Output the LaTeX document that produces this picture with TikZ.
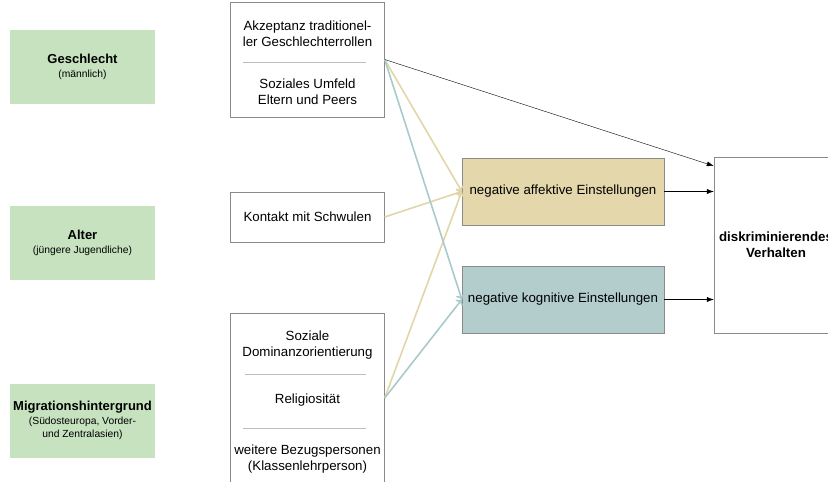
\documentclass[tikz,border=0pt]{standalone}
\usepackage{fontspec}
\setmainfont{Liberation Sans}
\usetikzlibrary{arrows.meta,positioning}
\definecolor{factorgreen}{HTML}{C6E2BF}
\definecolor{affecttan}{HTML}{E4D7AC}
\definecolor{cognblue}{HTML}{B3CDCC}
\definecolor{tanline}{HTML}{E2D5A6}
\definecolor{blueline}{HTML}{A9CACB}
\definecolor{frame}{HTML}{8A8A8A}
\definecolor{seprule}{HTML}{BDBDBD}

\begin{document}
\begin{tikzpicture}[x=1pt,y=-1pt,
		factor/.style={fill=factorgreen, align=center, inner sep=0pt,
			font=\fontsize{10.3}{13}\selectfont,
			minimum width=145pt, minimum height=74pt},
		mediator/.style={draw=frame, fill=white, inner sep=0pt,
			minimum width=154pt},
		attitude/.style={draw=frame, align=center, font=\fontsize{13.3}{16}\selectfont,
			inner sep=0pt, minimum width=202pt, minimum height=67pt},
		label/.style={align=center, font=\fontsize{13.3}{16}\selectfont},
		direct/.style={-{Latex[length=7pt,width=5pt]}, thin},
		tanpath/.style={-{To[length=5pt,width=9pt]}, draw=tanline, line width=1.6pt},
		bluepath/.style={-{To[length=5pt,width=9pt]}, draw=blueline, line width=1.6pt}
	]
	\useasboundingbox (0,0) rectangle (828,482);
	\clip (0,0) rectangle (828,482);

	% left column: personal factors
	\node[factor] (gender) at (82.5,67) {{\fontsize{13}{15}\selectfont\bfseries Geschlecht}\\[1pt](männlich)};
	\node[factor] (age) at (82.5,243) {{\fontsize{13}{15}\selectfont\bfseries Alter}\\[1pt](jüngere Jugendliche)};
	\node[factor] (migration) at (82.5,420.5) {{\fontsize{13}{15}\selectfont\bfseries Migrationshintergrund}\\[1pt](Südosteuropa, Vorder-\\und Zentralasien)};

	% middle column: social context
	\node[mediator, minimum height=115pt] (roles) at (307.5,59.5) {};
	\node[label] (rolestext) at (307.5,34) {Akzeptanz traditionel-\\ler Geschlechterrollen};
	\node[label] (peers) at (307.5,92) {Soziales Umfeld\\Eltern und Peers};
	\draw[seprule] (243,62) -- (366,62);

	\node[mediator, minimum height=50pt] (contact) at (307.5,217) {};
	\node[label] at (contact) {Kontakt mit Schwulen};

	\node[mediator, minimum height=170pt] (values) at (307.5,398) {};
	\node[label] (dominance) at (307.5,345) {Soziale\\Dominanzorientierung};
	\node[label] (religion) at (307.5,400) {Religiosität};
	\node[label] (teachers) at (307.5,459) {weitere Bezugspersonen\\(Klassenlehrperson)};
	\draw[seprule] (245,374) -- (366,374);
	\draw[seprule] (243,428) -- (366,428);

	% attitudes and outcome
	\node[attitude, fill=affecttan] (affective) at (563,191.5) {negative affektive Einstellungen};
	\node[attitude, fill=cognblue] (cognitive) at (563,299.5) {negative kognitive Einstellungen};
	\node[draw=frame, fill=white, inner sep=0pt, minimum width=124pt, minimum height=176pt,
		align=center, font=\fontsize{13.3}{16}\selectfont\bfseries] (behaviour) at (776,245)
		{diskriminierendes\\Verhalten};

	% paths
	\draw[tanpath] (roles.east) -- (affective.west);
	\draw[tanpath] (contact.east) -- (affective.west);
	\draw[tanpath] (values.east) -- (affective.west);
	\draw[bluepath] (roles.east) -- (cognitive.west);
	\draw[bluepath] (values.east) -- (cognitive.west);
	\draw[direct] (roles.east) -- (behaviour.west |- 0,166);
	\draw[direct] (affective.east) -- (behaviour.west |- affective.east);
	\draw[direct] (cognitive.east) -- (behaviour.west |- cognitive.east);
\end{tikzpicture}
\end{document}
